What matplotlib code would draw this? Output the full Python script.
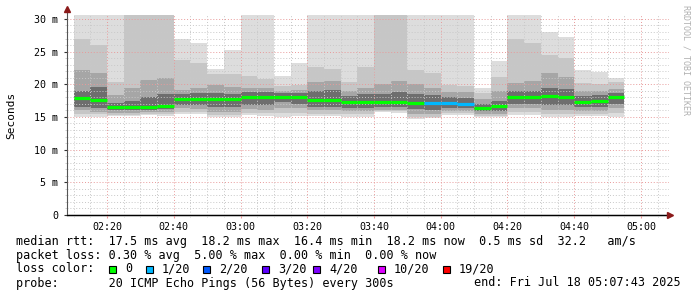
import numpy as np
import matplotlib
matplotlib.use("Agg")
import matplotlib.pyplot as plt
from matplotlib.lines import Line2D
from matplotlib.patches import Rectangle

plt.rcParams['font.family'] = 'DejaVu Sans Mono'

W, H = 697, 297

# 5 minute bins, first one starts 02:10
start_min = 2 * 60 + 10
step_min = 5

median = [17.86, 17.6, 16.5, 16.5, 16.6, 16.7, 17.75, 17.75, 17.76, 17.76, 18.06,
          18.06, 18.06, 18.0, 17.55, 17.55, 17.35, 17.35, 17.35, 17.35, 17.2, 17.2,
          17.2, 17.0, 16.4, 16.63, 18.06, 18.06, 18.16, 18.06, 17.3, 17.5, 18.1]
loss = [0] * 21 + [1, 1, 1] + [0] * 9

# smoke bands (ms), outer -> inner
hi0 = [31, 31, 31, 31, 31, 31, 27.0, 26.3, 22.4, 25.2, 31, 31, 21.2, 23.2, 31, 31, 31,
       31, 31, 31, 31, 31, 31, 31, 19.4, 23.5, 31, 31, 28.0, 27.2, 22.2, 21.9, 21.0]
hi1 = [27.0, 26.0, 20.4, 31, 31, 31, 23.7, 23.2, 21.6, 21.6, 21.2, 20.8, 19.8, 19.9, 22.6,
       22.3, 20.4, 22.6, 31, 31, 22.2, 21.8, 19.9, 19.7, 18.7, 21.1, 27.0, 26.3, 24.5, 24.0,
       20.2, 20.0, 20.3]
hi2 = [22.2, 21.7, 18.3, 19.4, 20.7, 21.0, 19.2, 19.4, 19.9, 19.6, 19.5, 19.5, 19.0, 19.2,
       20.3, 20.5, 19.0, 19.5, 20.0, 20.5, 20.0, 19.5, 18.8, 18.8, 17.8, 19.0, 20.2, 20.5,
       21.8, 21.1, 19.0, 19.0, 19.3]
hi3 = [19.0, 19.6, 17.2, 17.5, 18.0, 18.5, 18.5, 18.6, 18.6, 18.5, 18.8, 18.8, 18.6, 18.6,
       19.0, 19.1, 18.2, 18.5, 18.5, 18.8, 18.5, 18.3, 18.0, 17.9, 17.0, 17.5, 18.9, 19.0,
       19.5, 19.3, 18.2, 18.3, 18.7]
lo3 = [16.6, 16.3, 16.0, 16.0, 16.1, 16.2, 16.9, 16.8, 16.6, 16.6, 16.8, 16.8, 17.3, 17.0,
       16.6, 16.6, 16.4, 16.3, 16.5, 16.5, 16.2, 16.0, 16.3, 16.3, 15.9, 15.9, 17.0, 17.0,
       16.8, 16.8, 16.5, 16.5, 17.0]
lo2 = [16.0, 15.8, 15.6, 15.6, 15.8, 15.8, 16.3, 16.2, 15.8, 15.8, 16.2, 16.0, 16.3, 16.3,
       16.0, 16.0, 15.9, 15.9, 16.1, 16.1, 15.5, 15.5, 15.9, 15.9, 15.5, 15.5, 16.3, 16.3,
       16.0, 16.0, 15.9, 15.9, 16.3]
lo1 = [15.5, 15.4, 15.3, 15.3, 15.5, 15.5, 15.8, 15.7, 15.3, 15.3, 15.6, 15.6, 15.6, 15.6,
       15.5, 15.5, 15.4, 15.5, 15.9, 15.9, 15.0, 15.0, 15.6, 15.6, 15.2, 15.2, 15.8, 15.8,
       15.4, 15.4, 15.4, 15.4, 15.6]
lo0 = [14.95, 15.0, 15.1, 15.1, 15.3, 15.1, 15.5, 15.4, 15.0, 15.0, 15.3, 15.2, 15.0, 15.1,
       15.2, 15.1, 15.05, 15.05, 15.75, 15.65, 14.75, 14.8, 15.35, 15.3, 15.0, 15.0, 15.3,
       15.3, 15.0, 15.0, 15.1, 15.1, 15.0]

smoke_colors = ['#dddddd', '#c6c6c6', '#a6a6a6', '#6e6e6e']

loss_labels = ['0', '1/20', '2/20', '3/20', '4/20', '10/20', '19/20']
loss_colors = ['#00ff00', '#00b8ff', '#0059ff', '#5e00ff', '#7e00ff', '#dd00ff', '#ff0000']
loss_steps = [0, 1, 2, 3, 4, 10, 19]

xtick_labels = ['02:20', '02:40', '03:00', '03:20', '03:40', '04:00', '04:20', '04:40', '05:00']
ytick_labels = ['0', '5 m', '10 m', '15 m', '20 m', '25 m', '30 m']

legend_lines = [
    "median rtt:  17.5 ms avg  18.2 ms max  16.4 ms min  18.2 ms now  0.5 ms sd  32.2   am/s",
    "packet loss: 0.30 % avg  5.00 % max  0.00 % min  0.00 % now",
]
probe_text = "probe:       20 ICMP Echo Pings (56 Bytes) every 300s"
end_text = "end: Fri Jul 18 05:07:43 2025"


def px(x, y):
    return x / W, 1 - y / H


fig = plt.figure(figsize=(W / 100, H / 100), dpi=100)
ax = fig.add_axes([67 / W, (H - 215) / H, (669 - 67) / W, 200 / H])

n = len(median)
edges = start_min + step_min * np.arange(n + 1)

bands = [(lo0, hi0), (lo1, hi1), (lo2, hi2), (lo3, hi3)]
for (lo, hi), c in zip(bands, smoke_colors):
    ax.stairs(hi, edges, baseline=lo, fill=True, color=c, lw=0, zorder=1)

med_colors = [loss_colors[loss_steps.index(l)] for l in loss]
ax.hlines(median, edges[:-1], edges[1:], colors=med_colors, lw=2.3, zorder=3)

ax.set_xlim(128, 308.4)
ax.set_ylim(0, 30.6)

ax.set_xticks(np.arange(140, 301, 20))
ax.set_xticklabels(xtick_labels)
ax.set_xticks(np.arange(130, 306, 5), minor=True)
ax.set_yticks(np.arange(0, 31, 5))
ax.set_yticklabels(ytick_labels)
ax.set_yticks(np.arange(0, 31, 1), minor=True)

ax.grid(which='minor', color='#c8c8c8', linestyle=(0, (1, 2)), lw=0.7)
ax.grid(which='major', color='#e89a9a', linestyle=(0, (1, 2)), lw=0.7)
ax.set_axisbelow(False)

ax.tick_params(axis='both', which='both', labelsize=7.2, colors='#333333')
ax.tick_params(axis='x', which='major', length=2, pad=3, color='#e89a9a')
ax.tick_params(axis='x', which='minor', length=1.5, color='#c8c8c8')
ax.tick_params(axis='y', which='major', length=2.5, pad=4)
ax.tick_params(axis='y', which='minor', length=1.5, color='#c8c8c8')
for lab in ax.get_xticklabels() + ax.get_yticklabels():
    lab.set_color('black')

for s in ['top', 'right']:
    ax.spines[s].set_visible(False)
ax.spines['left'].set_visible(False)
ax.spines['bottom'].set_color('black')
ax.spines['bottom'].set_linewidth(1)

# axis lines with arrows
x0, y0 = px(67, 215)
x1, y1 = px(67, 9)
fig.add_artist(Line2D([x0, x1], [y0, y1], color='#555555', lw=0.8))
x2, y2 = px(670, 215)
fig.add_artist(Line2D([x0, x2], [y0, y2], color='black', lw=0.8))
fig.add_artist(Line2D([x1], [y1], marker='^', color='#8b1a1a', markersize=4, lw=0))
fig.add_artist(Line2D([x2], [y2], marker='>', color='#8b1a1a', markersize=4, lw=0))

fig.text(*px(11, 115), 'Seconds', rotation=90, ha='center', va='center', fontsize=8)
fig.text(*px(686, 60), 'RRDTOOL / TOBI OETIKER', rotation=270, ha='center', va='center',
         fontsize=6, color='#b0b0b0')

for i, line in enumerate(legend_lines):
    fig.text(*px(16, 241 + 14 * i), line, ha='left', va='center', fontsize=8.5)

fig.text(*px(16, 269), 'loss color:', ha='left', va='center', fontsize=8.5)
sq_x = [109, 146, 203, 262, 313, 378, 443]
for xs, lab, c in zip(sq_x, loss_labels, loss_colors):
    fig.add_artist(Rectangle(px(xs, 273), 7 / W, 7 / H, facecolor=c, edgecolor='black',
                             lw=0.8, transform=fig.transFigure))
    fig.text(*px(xs + 16, 269), lab, ha='left', va='center', fontsize=8.5)

fig.text(*px(16, 283), probe_text, ha='left', va='center', fontsize=8.5)
fig.text(*px(681, 283), end_text, ha='right', va='center', fontsize=8.5)

fig.savefig('out.png', dpi=100)
